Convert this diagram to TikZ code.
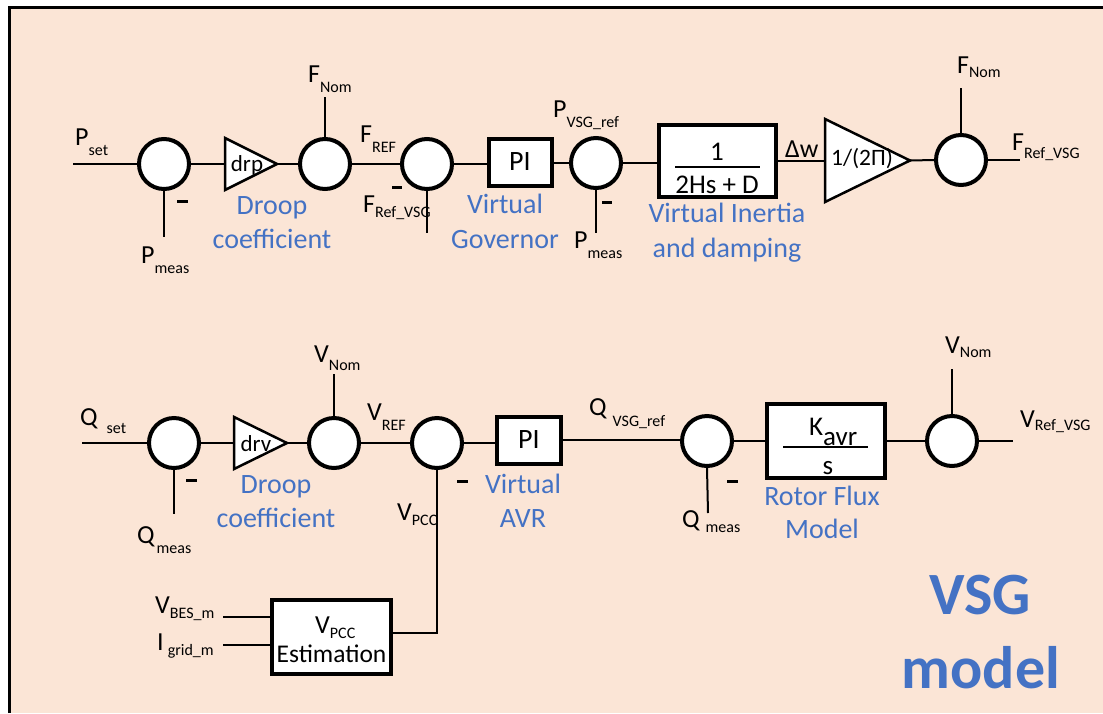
\documentclass[tikz,border=0pt]{standalone}
\usepackage{fontspec}
\setmainfont{Carlito}
\definecolor{bgc}{RGB}{251,229,214}
\definecolor{blu}{RGB}{68,114,196}
\newcommand\mylab[3][-10pt]{\fontsize{26}{26}\selectfont #2\raisebox{#1}{\fontsize{16}{16}\selectfont #3}}
\begin{document}
\begin{tikzpicture}[x=1pt,y=-1pt,
  conn/.style={line width=2pt},
  sumj/.style={circle,draw,line width=4pt,fill=white,minimum size=50pt,inner sep=0pt},
  blk/.style={draw,line width=4pt,fill=white,inner sep=0pt,font=\fontsize{28}{28}\selectfont},
  tri/.style={draw,line width=2.5pt,fill=white,line join=miter},
  lab/.style={inner sep=0pt,anchor=base west},
  txt/.style={inner sep=0pt,anchor=base,font=\fontsize{26}{26}\selectfont},
  blab/.style={inner sep=0pt,anchor=base,text=blu,font=\fontsize{28}{28}\selectfont},
  minus/.style={line width=3pt}]
\useasboundingbox (0,0) rectangle (1103,713);
\fill[white] (0,0) rectangle (1103,713);
\fill[bgc] (9.5,7.5) rectangle (1103,713);
\draw[line width=3pt] (9.5,713) -- (9.5,7.5) -- (1103,7.5);

% ---------------- top row ----------------
\node[sumj] (s1) at (164,164) {};
\coordinate (pset) at (73,164);
\coordinate (pmeas1) at (164,237);
\draw[conn] (pset) -- (s1.west);
\draw[conn] (s1.south) -- (pmeas1);
\draw[tri] (225,138) -- (225,190) -- (277,164) -- cycle;
\coordinate (drpL) at (225,164);
\coordinate (drpR) at (277,164);
\node[inner sep=0pt,font=\fontsize{23}{23}\selectfont] (drpt) at (247,165) {drp};
\draw[conn] (s1.east) -- (drpL);
\node[sumj] (s2) at (325,164) {};
\draw[conn] (drpR) -- (s2.west);
\coordinate (fnom1) at (325,97);
\draw[conn] (fnom1) -- (s2.north);
\node[sumj] (s3) at (427,164) {};
\draw[conn] (s2.east) -- (s3.west);
\coordinate (fvsg1) at (427,233);
\draw[conn] (s3.south) -- (fvsg1);
\node[blk,minimum width=63pt,minimum height=47pt] (pi1) at (520,162) {PI};
\draw[conn] (s3.east) -- (s3.east -| pi1.west);
\node[sumj] (s4) at (596,163) {};
\draw[conn] (pi1.east |- s4.west) -- (s4.west);
\coordinate (pmeas2) at (596,233);
\draw[conn] (s4.south) -- (pmeas2);
\node[blk,minimum width=117pt,minimum height=72pt] (inert) at (717.5,161) {};
\draw[conn] (s4.east) -- (s4.east -| inert.west);
\node[txt,font=\fontsize{27}{27}\selectfont] (one) at (717,160) {1};
\draw[line width=1.5pt] (675,167) -- (760,167);
\node[txt,font=\fontsize{27}{27}\selectfont] (den) at (717,193) {2Hs + D};
\draw[tri] (825,119) -- (825,202) -- (910,160.5) -- cycle;
\coordinate (t2L) at (825,160.5);
\coordinate (t2R) at (910,160.5);
\node[inner sep=0pt,font=\fontsize{23.5}{23.5}\selectfont] (t2t) at (862,159) {1/(2Π)};
\draw[conn] (inert.east |- t2L) -- (t2L);
\node[sumj] (s5) at (961,160) {};
\draw[conn] (t2R) -- (s5.west);
\coordinate (fnom3) at (961,88);
\draw[conn] (fnom3) -- (s5.north);
\coordinate (fout) at (1020,160);
\draw[conn] (s5.east) -- (fout);

% top labels
\node[lab] (lpset) at (75,145) {\mylab{P}{set}};
\node[lab] (lpmeas1) at (141,263) {\mylab{P}{meas}};
\node[lab] (lfnom1) at (308,82) {\mylab{F}{Nom}};
\node[lab] (lfref) at (360,142) {\mylab{F}{REF}};
\node[lab] (lfvsg1) at (363,212) {\mylab[-5pt]{F}{Ref\_VSG}};
\node[lab] (lpvsg) at (553,117) {\mylab{P}{VSG\_ref}};
\node[lab] (lpmeas2) at (574,248) {\mylab{P}{meas}};
\node[lab,font=\fontsize{26}{26}\selectfont] (ldw) at (785,157) {Δw};
\node[lab] (lfnom3) at (957,73) {\mylab[-4pt]{F}{Nom}};
\node[lab] (lfout) at (1012,150) {\mylab[-8pt]{F}{Ref\_VSG}};
\draw[minus] (177,201) -- (188,201);
\draw[minus] (392,187) -- (402,187);
\draw[minus] (602,202) -- (612,202);
\node[blab] (b1a) at (272,214) {Droop};
\node[blab] (b1b) at (272,248) {coefficient};
\node[blab] (b2a) at (505,213) {Virtual};
\node[blab] (b2b) at (505,248) {Governor};
\node[blab] (b3a) at (727,222) {Virtual Inertia};
\node[blab] (b3b) at (727,257) {and damping};

% ---------------- bottom row ----------------
\node[sumj] (s6) at (174,443) {};
\coordinate (qset) at (82,443);
\coordinate (qmeas1) at (174,514);
\draw[conn] (qset) -- (s6.west);
\draw[conn] (s6.south) -- (qmeas1);
\draw[tri] (234,417) -- (234,469) -- (287,443) -- cycle;
\coordinate (drvL) at (234,443);
\coordinate (drvR) at (287,443);
\node[inner sep=0pt,font=\fontsize{23}{23}\selectfont] (drvt) at (256,444) {drv};
\draw[conn] (s6.east) -- (drvL);
\node[sumj] (s7) at (334,443) {};
\draw[conn] (drvR) -- (s7.west);
\coordinate (vnom1) at (334,374);
\draw[conn] (vnom1) -- (s7.north);
\node[sumj] (s8) at (437,443) {};
\draw[conn] (s7.east) -- (s8.west);
\node[blk,minimum width=64pt,minimum height=47pt] (pi2) at (529,440) {PI};
\draw[conn] (s8.east) -- (s8.east -| pi2.west);
\node[sumj] (s9) at (707,441) {};
\draw[conn] (pi2.east) -- (pi2.east -| s9.west);
\coordinate (qmeas2) at (708,513);
\draw[conn] (s9.south) -- (qmeas2);
\node[blk,minimum width=118pt,minimum height=74pt] (kavr) at (826,441) {};
\draw[conn] (s9.east) -- (s9.east -| kavr.west);
\node[lab,font=\fontsize{27}{27}\selectfont] (kk) at (809,435) {K\raisebox{-10pt}{avr}};
\draw[line width=1.5pt] (783,447) -- (868,447);
\node[txt,font=\fontsize{27}{27}\selectfont] (ks) at (828,474) {s};
\node[sumj] (s10) at (952,441) {};
\draw[conn] (kavr.east) -- (kavr.east -| s10.west);
\coordinate (vnom2) at (952,369);
\draw[conn] (vnom2) -- (s10.north);
\coordinate (vout) at (1013,441);
\draw[conn] (s10.east) -- (vout);

\node[blk,minimum width=119pt,minimum height=74pt] (est) at (331.5,637) {};
\node[lab] (estv) at (315,633) {\mylab[-5pt]{V}{PCC}};
\node[txt,font=\fontsize{25.5}{25.5}\selectfont] (estt) at (331.5,662) {Estimation};
\coordinate (vbes) at (223,617);
\coordinate (igrid) at (223,645);
\draw[conn] (vbes) -- (vbes -| est.west);
\draw[conn] (igrid) -- (igrid -| est.west);
\draw[conn] (s8.south) |- ([yshift=4pt]est.east);

% bottom labels
\node[lab] (lqset) at (80,425) {\mylab[-8pt]{Q}{\hspace{9pt}set}};
\node[lab] (lqmeas1) at (137,543) {\mylab{Q}{\hspace{2pt}meas}};
\node[lab] (lvnom1) at (314,362) {\mylab[-8pt]{V}{Nom}};
\node[lab] (lvref) at (367,420) {\mylab{V}{REF}};
\node[lab] (lvpcc) at (397,520) {\mylab[-5pt]{V}{PCC}};
\node[lab] (lqvsg) at (589,415) {\mylab[-11pt]{Q}{\hspace{6pt}VSG\_ref}};
\node[lab] (lqmeas2) at (682,527) {\mylab[-5pt]{Q}{\hspace{6pt}meas}};
\node[lab] (lvnom2) at (945,353) {\mylab[-4pt]{V}{Nom}};
\node[lab] (lvout) at (1020,427) {\mylab[-3pt]{V}{Ref\_VSG}};
\node[lab] (lvbes) at (155,613) {\mylab[-5pt]{V}{BES\_m}};
\node[lab] (ligrid) at (157,650) {\mylab[-5pt]{I}{\hspace{4pt}grid\_m}};
\draw[minus] (186,480) -- (197,480);
\draw[minus] (457,481) -- (468,481);
\draw[minus] (727,481) -- (738,481);
\node[blab] (b4a) at (276,493) {Droop};
\node[blab] (b4b) at (276,527) {coefficient};
\node[blab] (b5a) at (523,493) {Virtual};
\node[blab] (b5b) at (523,527) {AVR};
\node[blab] (b6a) at (822,505) {Rotor Flux};
\node[blab] (b6b) at (822,538) {Model};

\node[inner sep=0pt,anchor=base,text=blu,font=\fontsize{60}{60}\selectfont\bfseries] (vsg1) at (980,614) {VSG};
\node[inner sep=0pt,anchor=base,text=blu,font=\fontsize{60}{60}\selectfont\bfseries] (vsg2) at (981,688) {model};
\end{tikzpicture}
\end{document}
